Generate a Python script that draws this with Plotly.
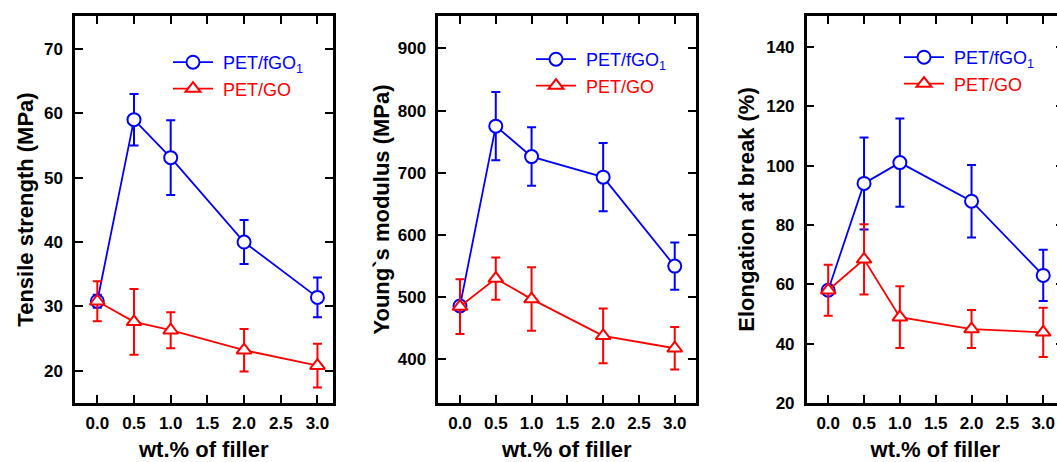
import plotly.graph_objects as go

# ---------------- data ----------------
filler = [0.0, 0.5, 1.0, 2.0, 3.0]

ts_fgo = [30.8, 59.0, 53.1, 40.0, 31.4]
ts_fgo_err = [1.0, 4.0, 5.8, 3.4, 3.1]
ts_go = [30.8, 27.6, 26.3, 23.2, 20.8]
ts_go_err = [3.1, 5.1, 2.8, 3.3, 3.4]

ym_fgo = [486, 775, 726, 693, 550]
ym_fgo_err = [8, 55, 47, 55, 38]
ym_go = [485, 530, 497, 438, 418]
ym_go_err = [44, 34, 51, 44, 34]

eb_fgo = [58, 94, 101, 88, 63]
eb_fgo_err = [1.5, 15.5, 14.9, 12.2, 8.6]
eb_go = [58, 68.4, 48.9, 44.9, 43.8]
eb_go_err = [8.6, 11.8, 10.4, 6.4, 8.3]

name_fgo = "PET/fGO<sub>1</sub>"
name_go = "PET/GO"
y_titles = ["Tensile strength (MPa)", "Young`s modulus (MPa)", "Elongation at break (%)"]
x_title = "wt.% of filler"

# ---------------- layout helpers ----------------
W, H = 1064, 462             # figure a bit wider than the page: right frame of panel 3 falls just outside
TOP, BOT = 16, 403           # plot area top / bottom in pixels
def px_x(x):
    return x / W
def px_y(y):
    return (BOT - y) / (BOT - TOP)

BLUE = "#0000ff"
RED = "#ff0000"
FONT = "Arial, 'Liberation Sans', sans-serif"

panels = [
    dict(fgo=ts_fgo, fgo_e=ts_fgo_err, go_=ts_go, go_e=ts_go_err,
         dom=(75, 332.5), xr=(-0.304, 3.205), yr=(15, 75.1), dtick=10,
         leg=(168, 44), ystand=5),
    dict(fgo=ym_fgo, fgo_e=ym_fgo_err, go_=ym_go, go_e=ym_go_err,
         dom=(438.3, 695.5), xr=(-0.303, 3.29), yr=(330, 952), dtick=100,
         leg=(531, 41), ystand=3),
    dict(fgo=eb_fgo, fgo_e=eb_fgo_err, go_=eb_go, go_e=eb_go_err,
         dom=(806.7, 1064), xr=(-0.3, 3.29), yr=(20, 150.4), dtick=20,
         leg=(899, 39), ystand=6),
]

fig = go.Figure()
layout = dict(
    width=W, height=H,
    margin=dict(l=0, r=0, t=TOP, b=H - BOT, pad=0),
    paper_bgcolor="white", plot_bgcolor="white",
    font=dict(family=FONT, color="black"),
    showlegend=True,
)

for i, p in enumerate(panels):
    n = "" if i == 0 else str(i + 1)
    legname = "legend" + n
    fig.add_trace(go.Scatter(
        x=filler, y=p["fgo"], mode="lines+markers",
        name=f"<span style='color:{BLUE}'>\u00a0{name_fgo}</span>",
        xaxis="x" + n, yaxis="y" + n, legend=legname, legendgroup=f"a{i}",
        line=dict(color=BLUE, width=1.8),
        marker=dict(symbol="circle", size=13, color="white", line=dict(color=BLUE, width=2)),
        error_y=dict(type="data", array=p["fgo_e"], color=BLUE, thickness=2, width=4.5),
    ))
    fig.add_trace(go.Scatter(
        x=filler, y=p["go_"], mode="lines+markers",
        name=f"<span style='color:{RED}'>\u00a0{name_go}</span>",
        xaxis="x" + n, yaxis="y" + n, legend=legname, legendgroup=f"b{i}",
        line=dict(color=RED, width=1.8),
        marker=dict(symbol="triangle-up", size=13, color="white", line=dict(color=RED, width=2)),
        error_y=dict(type="data", array=p["go_e"], color=RED, thickness=2, width=4.5),
    ))
    common = dict(
        showline=True, linewidth=2.5, linecolor="black", mirror="allticks",
        ticks="inside", ticklen=8, tickwidth=2, tickcolor="black",
        showgrid=False, zeroline=False, automargin=False,
        tickfont=dict(family=FONT, size=17, color="black", weight="bold"),
    )
    layout["xaxis" + n] = dict(
        common, domain=[px_x(p["dom"][0]), min(1.0, px_x(p["dom"][1]))], range=list(p["xr"]),
        anchor="y" + n, tickvals=[0, 0.5, 1, 1.5, 2, 2.5, 3], tickformat=".1f",
        ticklabelstandoff=3,
        title=dict(text=x_title, font=dict(family=FONT, size=22, weight="bold"), standoff=20),
    )
    layout["yaxis" + n] = dict(
        common, domain=[0, 1], range=list(p["yr"]), anchor="x" + n,
        dtick=p["dtick"], tick0=0, ticklabelstandoff=6,
        title=dict(text=y_titles[i], font=dict(family=FONT, size=22, weight="bold"),
                   standoff=p["ystand"]),
    )
    layout[legname] = dict(
        x=px_x(p["leg"][0]), y=px_y(p["leg"][1]), xanchor="left", yanchor="top",
        bgcolor="rgba(0,0,0,0)", borderwidth=0, itemwidth=40,
        font=dict(family=FONT, size=18), tracegroupgap=0, traceorder="grouped",
    )

fig.update_layout(**layout)
fig.write_html(
    "out.html",
    config={"displayModeBar": False},
    post_script=(
        "document.documentElement.style.overflow='hidden';"
        "document.body.style.margin='0';"
        "document.body.style.overflow='hidden';"
    ),
)
